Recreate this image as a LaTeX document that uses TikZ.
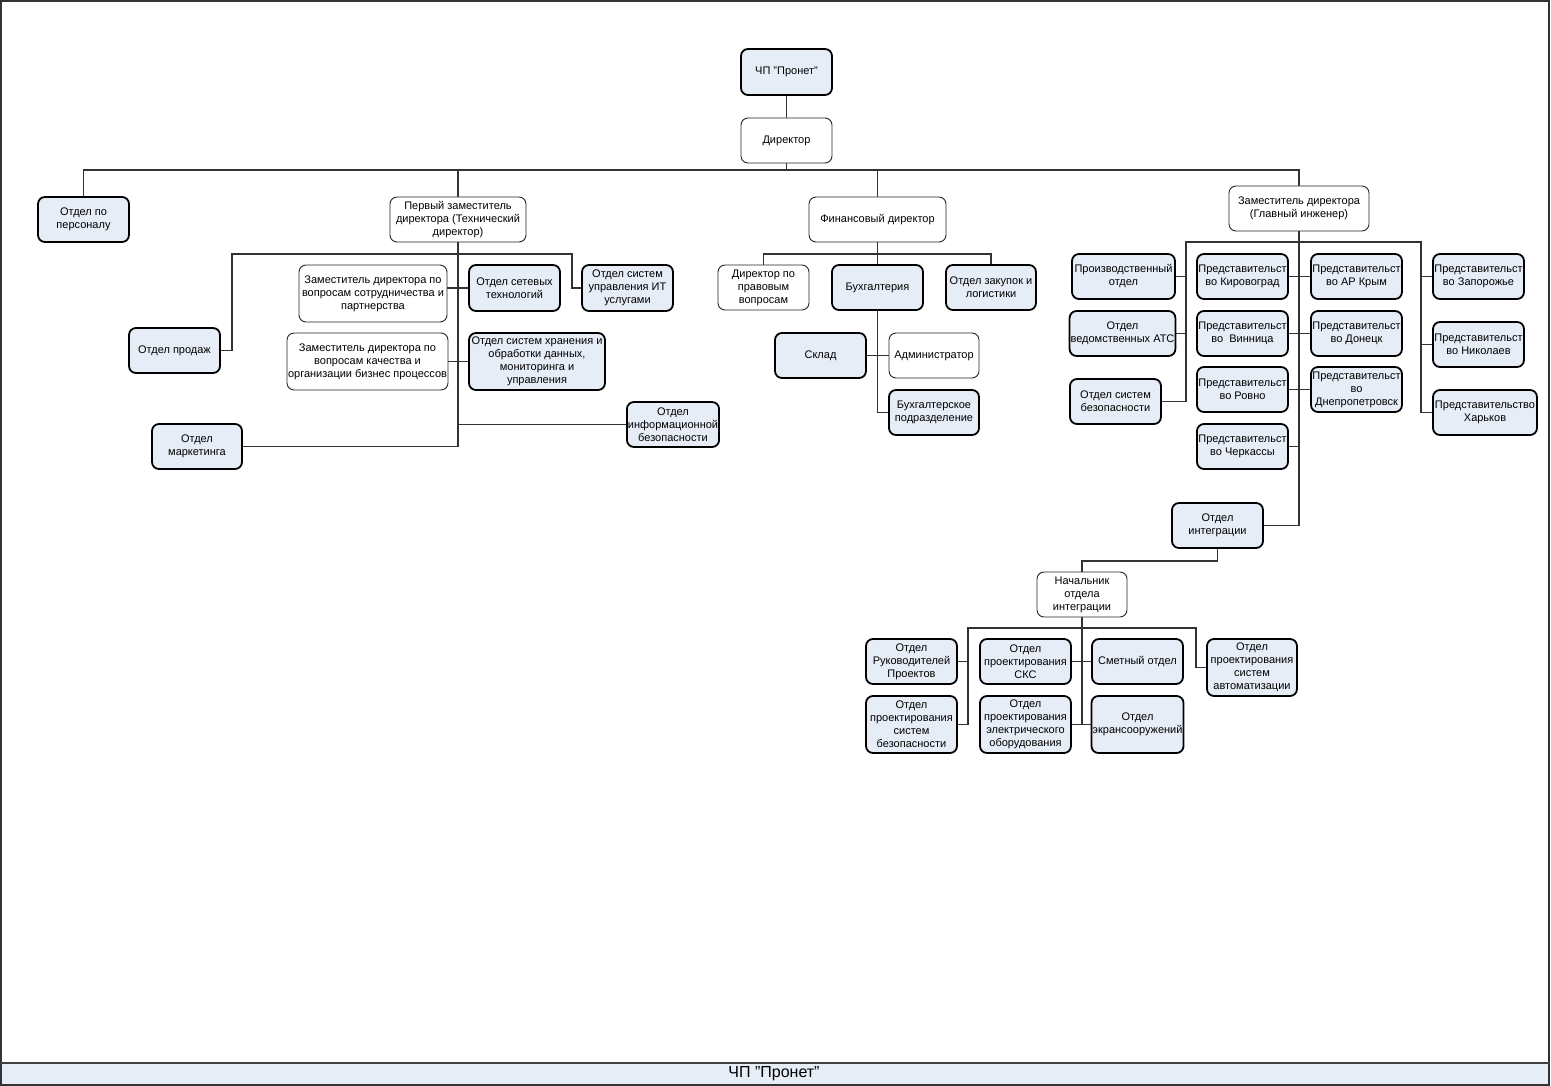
\documentclass[tikz,border=0pt]{standalone}
\usepackage{fontspec}
\setmainfont{Liberation Sans}
\usetikzlibrary{calc,backgrounds}
\definecolor{boxfill}{HTML}{E7EDF7}
\definecolor{linec}{HTML}{333333}
\tikzset{
  bluebox/.style={draw=black, line width=1.8pt, fill=boxfill, rounded corners=7pt, inner sep=1pt, align=center, font=\fontsize{11}{13}\selectfont},
  whitebox/.style={draw=black!85, line width=0.9pt, fill=white, rounded corners=7pt, inner sep=1pt, align=center, font=\fontsize{11}{13}\selectfont},
  ln/.style={draw=linec, line width=1.4pt},
}
\newcommand\bx[7]{%
  \pgfmathsetmacro\bxw{#5-#3}\pgfmathsetmacro\bxh{#6-#4}%
  \pgfmathsetmacro\bxx{(#3+#5)/2}\pgfmathsetmacro\bxy{(#4+#6)/2}%
  \node[#2, minimum width=\bxw pt, minimum height=\bxh pt] (#1) at (\bxx,\bxy) {#7};}
\begin{document}
\begin{tikzpicture}[x=1pt,y=-1pt]
\useasboundingbox (0,0) rectangle (1551,1086);
% top
\bx{root}{bluebox}{741}{49}{832}{95}{ЧП "Пронет"}
\bx{dir}{whitebox}{741}{118}{832}{163}{Директор}
\bx{pers}{bluebox}{38}{197}{129}{242}{Отдел по\\персоналу}
\bx{td}{whitebox}{390}{197}{526}{242}{Первый заместитель\\директора (Технический\\директор)}
\bx{fd}{whitebox}{809}{197}{946}{242}{Финансовый директор}
\bx{gi}{whitebox}{1229}{186}{1369}{231}{Заместитель директора\\(Главный инженер)}
% technical
\bx{zd1}{whitebox}{299}{265}{447}{322}{Заместитель директора по\\вопросам сотрудничества и\\партнерства}
\bx{net}{bluebox}{469}{265}{560}{311}{Отдел сетевых\\технологий}
\bx{itu}{bluebox}{582}{265}{673}{311}{Отдел систем\\управления ИТ\\услугами}
\bx{prod}{bluebox}{129}{328}{220}{373}{Отдел продаж}
\bx{zd2}{whitebox}{288}{333}{447}{390}{Заместитель директора по\\вопросам качества и\\организации бизнес процессов}
\bx{stor}{bluebox}{469}{333}{605}{390}{Отдел систем хранения и\\обработки данных,\\мониторинга и\\управления}
\bx{isec}{bluebox}{628}{402}{718}{447}{Отдел\\информационной\\безопасности}
\bx{mark}{bluebox}{152}{424}{242}{469}{Отдел\\маркетинга}
% finance
\bx{legal}{whitebox}{718}{265}{809}{310}{Директор по\\правовым\\вопросам}
\bx{buh}{bluebox}{832}{265}{923}{310}{Бухгалтерия}
\bx{zak}{bluebox}{946}{265}{1036}{310}{Отдел закупок и\\логистики}
\bx{sklad}{bluebox}{775}{333}{866}{378}{Склад}
\bx{adm}{whitebox}{889}{333}{979}{378}{Администратор}
\bx{bp}{bluebox}{889}{390}{979}{435}{Бухгалтерское\\подразделение}
% chief engineer
\bx{proizv}{bluebox}{1072}{254}{1175}{299}{Производственный\\отдел}
\bx{ats}{bluebox}{1070}{311}{1175}{356}{Отдел\\ведомственных АТС}
\bx{sb}{bluebox}{1070}{379}{1161}{424}{Отдел систем\\безопасности}
\bx{kir}{bluebox}{1197}{254}{1288}{299}{Представительст\\во Кировоград}
\bx{vin}{bluebox}{1197}{311}{1288}{356}{Представительст\\во \ Винница}
\bx{rov}{bluebox}{1197}{367}{1288}{412}{Представительст\\во Ровно}
\bx{cher}{bluebox}{1197}{424}{1288}{469}{Представительст\\во Черкассы}
\bx{krym}{bluebox}{1311}{254}{1402}{299}{Представительст\\во АР Крым}
\bx{don}{bluebox}{1311}{311}{1402}{356}{Представительст\\во Донецк}
\bx{dnep}{bluebox}{1311}{367}{1402}{412}{Представительст\\во\\Днепропетровск}
\bx{zap}{bluebox}{1433}{254}{1524}{299}{Представительст\\во Запорожье}
\bx{nik}{bluebox}{1433}{322}{1524}{367}{Представительст\\во Николаев}
\bx{khar}{bluebox}{1433}{390}{1537}{435}{Представительство\\Харьков}
\bx{integ}{bluebox}{1172}{503}{1263}{548}{Отдел\\интеграции}
% integration
\bx{nach}{whitebox}{1037}{572}{1127}{617}{Начальник\\отдела\\интеграции}
\bx{ruk}{bluebox}{866}{639}{957}{684}{Отдел\\Руководителей\\Проектов}
\bx{psb}{bluebox}{866}{696}{957}{753}{Отдел\\проектирования\\систем\\безопасности}
\bx{sks}{bluebox}{980}{639}{1071}{684}{Отдел\\проектирования\\СКС}
\bx{el}{bluebox}{980}{696}{1071}{753}{Отдел\\проектирования\\электрического\\оборудования}
\bx{smet}{bluebox}{1092}{639}{1183}{684}{Сметный отдел}
\bx{ekr}{bluebox}{1092}{696}{1183}{753}{Отдел\\экрансооружений}
\bx{avt}{bluebox}{1207}{639}{1297}{696}{Отдел\\проектирования\\систем\\автоматизации}
% footer text
\node[font=\fontsize{16}{18}\selectfont] (foot) at (774,1074) {ЧП "Пронет"};
\begin{scope}[on background layer]
  % frame and footer band
  \fill[boxfill] (1,1063) rectangle (1549,1085);
  \draw[line width=1.6pt, black!80] (0.8,0.8) rectangle (1549.2,1085.2);
  \draw[line width=1.6pt, black!75] (0,1063) -- (1550,1063);
  % top
  \coordinate (bus) at (0,170);
  \draw[ln] (root.south) -- (dir.north);
  \draw[ln] (dir.south) -- (dir.south |- bus);
  \draw[ln] (pers.north) |- (bus -| gi.north) -- (gi.north);
  \draw[ln] (td.north) -- (td.north |- bus);
  \draw[ln] (fd.north) -- (fd.north |- bus);
  % technical
  \coordinate (tbL) at (232,254);
  \coordinate (tbR) at (572,254);
  \draw[ln] (td.south) |- (mark.east);
  \draw[ln] (prod.east) -| (tbL) -- (tbR) |- (itu.west);
  \draw[ln] (net.west) -- (net.west -| zd1.east);
  \draw[ln] (zd2.east) -- (stor.west);
  \draw[ln] (isec.west) -- (isec.west -| td.south);
  % finance
  \coordinate (fb) at (0,254);
  \draw[ln] (fd.south) -- (buh.north);
  \draw[ln] (legal.north) |- (fb -| zak.north) -- (zak.north);
  \draw[ln] (buh.south) |- (bp.west);
  \draw[ln] (sklad.east) -- (adm.west);
  % chief engineer
  \coordinate (gL) at (1186,242);
  \coordinate (gR) at (1421,242);
  \draw[ln] (gi.south) |- (integ.east);
  \draw[ln] (sb.east) -| (gL) -- (gR) |- (khar.west);
  \draw[ln] (proizv.east) -- (proizv.east -| gL);
  \draw[ln] (ats.east) -- (ats.east -| gL);
  \draw[ln] (kir.east) -- (krym.west);
  \draw[ln] (vin.east) -- (don.west);
  \draw[ln] (rov.east) -- (dnep.west);
  \draw[ln] (cher.east) -- (cher.east -| gi.south);
  \draw[ln] (zap.west) -- (zap.west -| gR);
  \draw[ln] (nik.west) -- (nik.west -| gR);
  % integration
  \draw[ln] (integ.south) -- ++(0,12) -| (nach.north);
  \coordinate (nL) at (968,628);
  \coordinate (nR) at (1196,628);
  \draw[ln] (nach.south) |- (ekr.west);
  \draw[ln] (el.east) -- (ekr.west);
  \draw[ln] (psb.east) -| (nL) -- (nR) |- (avt.west);
  \draw[ln] (ruk.east) -- (ruk.east -| nL);
  \draw[ln] (sks.east) -- (smet.west);
\end{scope}
\end{tikzpicture}
\end{document}
